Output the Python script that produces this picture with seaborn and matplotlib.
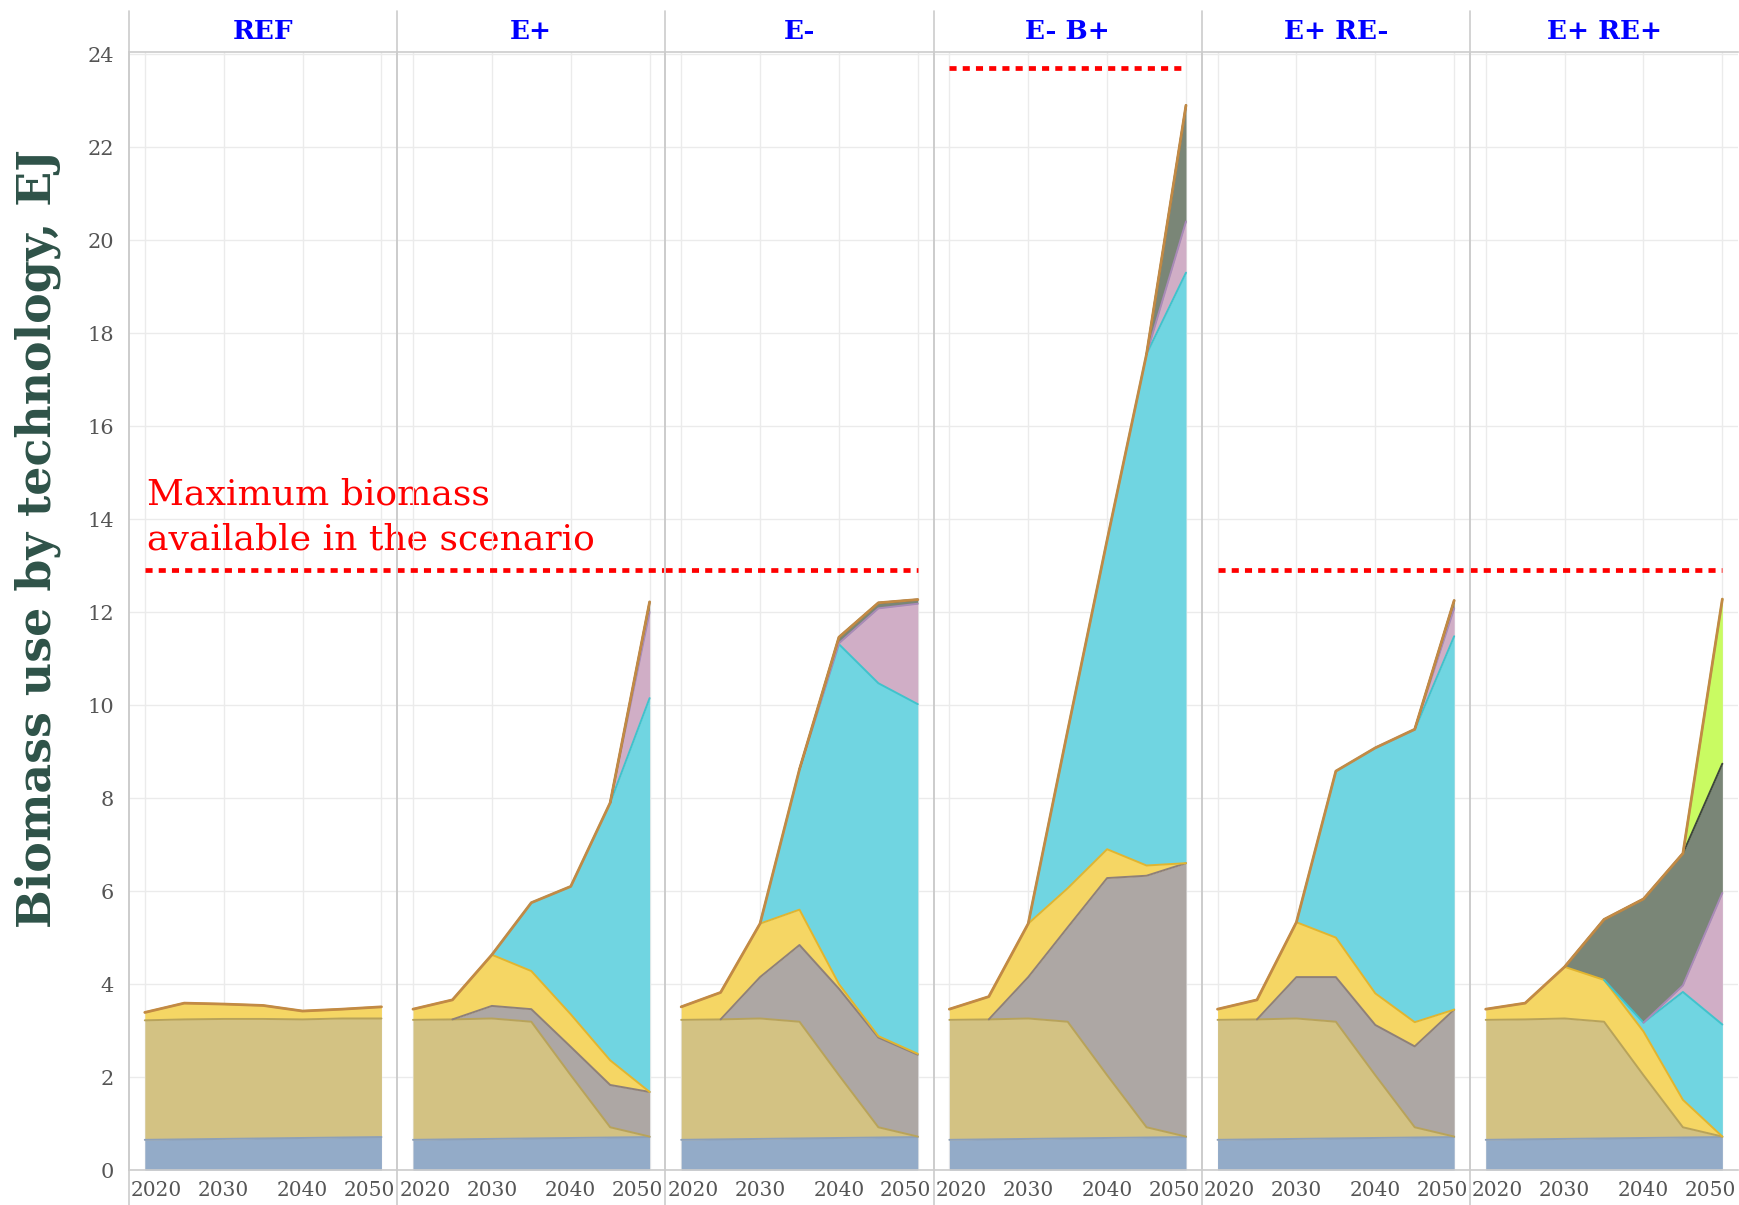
import numpy as np
import pandas as pd
import matplotlib.pyplot as plt
import matplotlib.transforms as mtransforms
import seaborn as sns
from matplotlib.lines import Line2D

# data (EJ, by technology layer)
years = [2020, 2025, 2030, 2035, 2040, 2045, 2050]
scenarios = ["REF", "E+", "E-", "E- B+", "E+ RE-", "E+ RE+"]
technologies = ["t1", "t2", "t3", "t4", "t5", "t6", "t7", "t8"]

blue_layer = [0.65, 0.66, 0.67, 0.68, 0.69, 0.70, 0.71]
tan_ref = [2.57, 2.58, 2.58, 2.57, 2.55, 2.56, 2.55]
tan_other = [2.58, 2.58, 2.59, 2.51, 1.35, 0.22, 0.01]
zeros = [0, 0, 0, 0, 0, 0, 0]

ref_vals = {
    "t1": blue_layer, "t2": tan_ref, "t3": zeros,
    "t4": [0.17, 0.35, 0.32, 0.29, 0.18, 0.20, 0.25],
    "t5": zeros, "t6": zeros, "t7": zeros, "t8": zeros,
}
eplus_vals = {
    "t1": blue_layer, "t2": tan_other,
    "t3": [0, 0, 0.27, 0.27, 0.61, 0.91, 0.96],
    "t4": [0.23, 0.42, 1.10, 0.82, 0.70, 0.53, 0],
    "t5": [0, 0, 0, 1.47, 2.75, 5.54, 8.47],
    "t6": [0, 0, 0, 0, 0, 0, 1.85],
    "t7": [0, 0, 0, 0, 0, 0, 0.22],
    "t8": zeros,
}
eminus_vals = {
    "t1": blue_layer, "t2": tan_other,
    "t3": [0, 0, 0.89, 1.65, 1.86, 1.93, 1.76],
    "t4": [0.28, 0.58, 1.15, 0.76, 0.10, 0.03, 0.02],
    "t5": [0, 0, 0, 3.02, 7.31, 7.59, 7.52],
    "t6": [0, 0, 0, 0, 0.02, 1.61, 2.16],
    "t7": [0, 0, 0, 0, 0.13, 0.12, 0.09],
    "t8": zeros,
}
eminus_bplus_vals = {
    "t1": blue_layer, "t2": tan_other,
    "t3": [0, 0, 0.89, 2.03, 4.24, 5.41, 5.88],
    "t4": [0.23, 0.49, 1.15, 0.84, 0.62, 0.22, 0],
    "t5": [0, 0, 0, 3.39, 6.65, 11.00, 12.70],
    "t6": [0, 0, 0, 0, 0, 0, 1.10],
    "t7": [0, 0, 0, 0, 0, 0, 2.50],
    "t8": zeros,
}
eplus_reminus_vals = {
    "t1": blue_layer, "t2": tan_other,
    "t3": [0, 0, 0.89, 0.96, 1.08, 1.74, 2.73],
    "t4": [0.23, 0.42, 1.18, 0.85, 0.68, 0.52, 0],
    "t5": [0, 0, 0, 3.58, 5.28, 6.29, 8.03],
    "t6": [0, 0, 0, 0, 0, 0.01, 0.60],
    "t7": [0, 0, 0, 0, 0, 0, 0.17],
    "t8": zeros,
}
eplus_replus_vals = {
    "t1": blue_layer, "t2": tan_other, "t3": zeros,
    "t4": [0.23, 0.35, 1.11, 0.90, 0.94, 0.59, 0],
    "t5": [0, 0, 0, 0, 0.19, 2.32, 2.41],
    "t6": [0, 0, 0, 0, 0, 0.14, 2.83],
    "t7": [0, 0, 0, 1.30, 2.66, 2.84, 2.78],
    "t8": [0, 0, 0, 0, 0, 0, 3.54],
}
max_biomass = [12.9, 12.9, 12.9, 23.7, 12.9, 12.9]

fills = ["#93abc8", "#d3c283", "#ada7a4", "#f5d664", "#70d5e1", "#d0aec6", "#7a8677", "#c9fb62"]
edges = ["#8da0b8", "#b8a35a", "#8e8079", "#e2b52e", "#3fc3cc", "#a98ab8", "#3d453d", "#8fd13a"]
top_color = "#c28a45"

rows = []
for scen, vals in zip(scenarios, [ref_vals, eplus_vals, eminus_vals, eminus_bplus_vals,
                                  eplus_reminus_vals, eplus_replus_vals]):
    for tech in technologies:
        for yr, v in zip(years, vals[tech]):
            rows.append({"scenario": scen, "technology": tech, "year": yr, "value": v})
df = pd.DataFrame(rows)

sns.set_theme(style="whitegrid")
plt.rcParams["font.family"] = ["DejaVu Serif"]


def draw_stack(data, **kws):
    ax = plt.gca()
    wide = data.pivot(index="year", columns="technology", values="value")[technologies]
    x = wide.index.values
    base = np.zeros(len(wide))
    for tech, fc, ec in zip(technologies, fills, edges):
        thick = wide[tech].values
        top = base + thick
        if thick.max() > 0:
            ax.fill_between(x, base, top, color=fc, lw=0, zorder=2)
            pos = thick > 0
            keep = pos | np.r_[pos[1:], False] | np.r_[False, pos[:-1]]
            ax.plot(x, np.ma.masked_where(~keep, top), color=ec, lw=1.4, zorder=3)
        base = top
    ax.plot(x, base, color=top_color, lw=2.0, zorder=4)


g = sns.FacetGrid(df, col="scenario", col_order=scenarios, sharey=True, despine=False,
                  height=6, aspect=0.4)
g.map_dataframe(draw_stack)
g.figure.set_size_inches(17.39, 12.05)
g.figure.subplots_adjust(left=0.0742, right=0.9995, bottom=0.029, top=0.957, wspace=0)

g.set_titles("{col_name}", color="#0000ff", fontweight="bold", size=19, pad=9)
g.set_axis_labels("", "")
g.set(xlim=(2018, 2052), ylim=(0, 24.05), xticks=[2020, 2030, 2040, 2050],
      yticks=list(range(0, 25, 2)))

fig = g.figure
shift_right = mtransforms.ScaledTranslation(12 / 100, 0, fig.dpi_scale_trans)
shift_left = mtransforms.ScaledTranslation(-12 / 100, 0, fig.dpi_scale_trans)

for i, ax in enumerate(g.axes.flat):
    ax.set_facecolor("none")
    ax.grid(color="#ebebeb", lw=1)
    for side in ["left", "right", "bottom", "top"]:
        ax.spines[side].set_color("#cccccc")
        ax.spines[side].set_linewidth(1.2)
    ax.spines["right"].set_visible(False)
    ax.tick_params(axis="x", labelsize=14.5, colors="#555555", length=5, width=1,
                   color="#999999", pad=3)
    ax.tick_params(axis="y", labelsize=15, colors="#555555", length=5, width=1,
                   color="#cccccc", pad=6)
    ax.set_xlabel("")
    ticks = ax.xaxis.get_major_ticks()
    ticks[0].label1.set_transform(ticks[0].label1.get_transform() + shift_right)
    ticks[-1].label1.set_transform(ticks[-1].label1.get_transform() + shift_left)

# dotted biomass limits, per facet
spans = [(2020, 2052), (2018, 2052), (2018, 2050), (2020, 2050), (2020, 2052), (2018, 2050)]
for ax, lim, (x0, x1) in zip(g.axes.flat, max_biomass, spans):
    ax.plot([x0, x1], [lim, lim], color="#ff0000", lw=3.4, linestyle=(0, (1.5, 1.3)),
            solid_capstyle="butt", dash_capstyle="butt", clip_on=False, zorder=6)

ax0 = g.axes.flat[0]
ax0.text(2020.3, 13.2, "Maximum biomass\navailable in the scenario", color="#ff0000",
         fontsize=26, ha="left", va="bottom", linespacing=1.4, clip_on=False, zorder=7)
ax0.set_ylabel("Biomass use by technology, EJ", fontsize=33, fontweight="bold",
               color="#2e5248")
ax0.yaxis.set_label_coords(-0.255, 0.565)

# panel separators running through strip and tick labels
for ax in g.axes.flat:
    x_left = ax.get_position().x0
    fig.add_artist(Line2D([x_left, x_left], [0, 0.991], color="#cccccc", lw=1.2,
                          transform=fig.transFigure))

plt.savefig("out.png", dpi=100, facecolor="white")
